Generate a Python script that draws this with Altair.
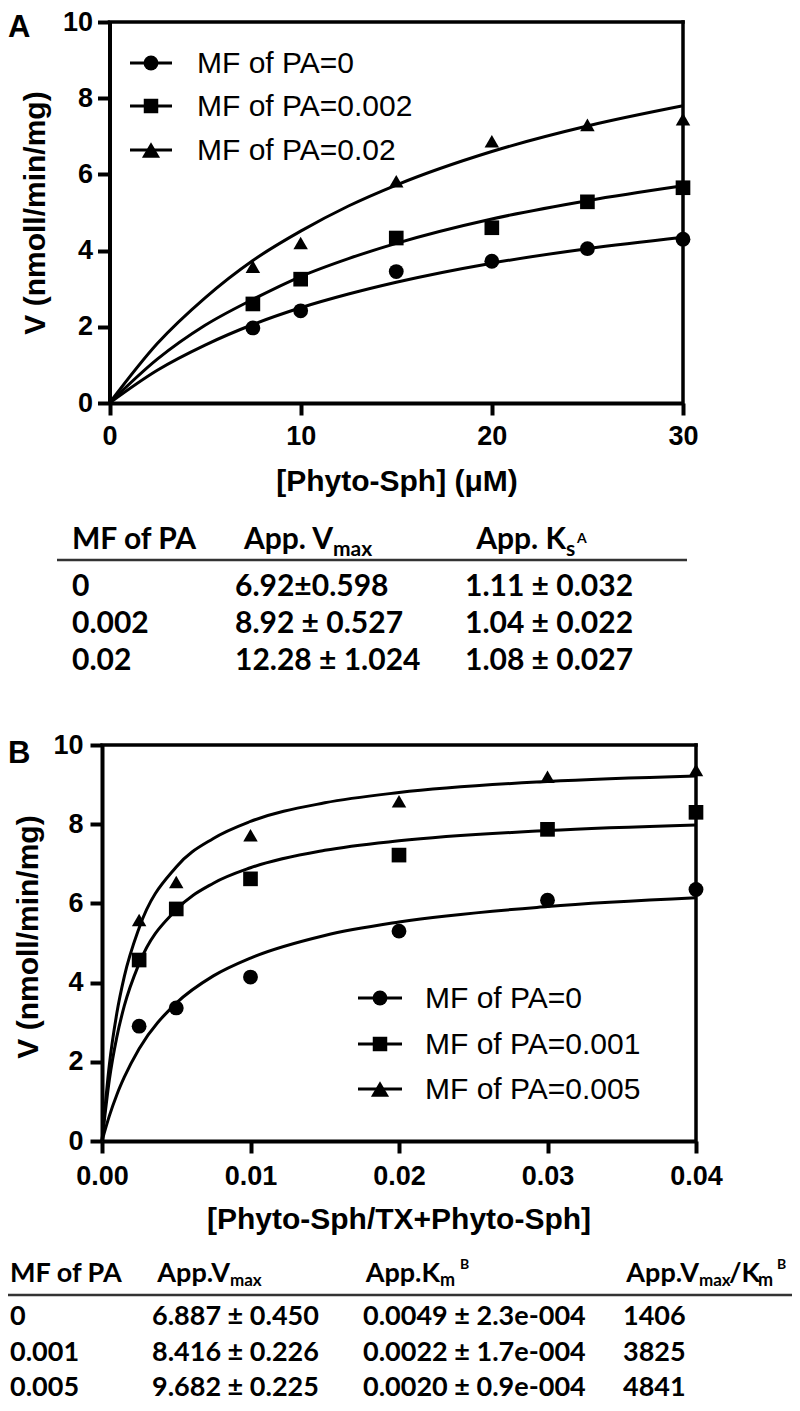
import altair as alt
import pandas as pd

W, H = 784, 1392

# ---------------- Panel A data ----------------
A_series = ["MF of PA=0", "MF of PA=0.002", "MF of PA=0.02"]
A_x = [7.5, 10, 15, 20, 25, 30]
A_v0 = [1.97, 2.42, 3.45, 3.72, 4.05, 4.30]
A_v1 = [2.60, 3.25, 4.33, 4.60, 5.28, 5.65]
A_v2 = [3.58, 4.20, 5.82, 6.87, 7.30, 7.45]
A_fit_x = [0, 2.5, 5, 7.5, 10, 12.5, 15, 20, 25, 30]
A_fit0 = [0, 0.86, 1.52, 2.06, 2.50, 2.86, 3.17, 3.67, 4.05, 4.35]
A_fit1 = [0, 1.15, 2.04, 2.72, 3.32, 3.79, 4.19, 4.83, 5.31, 5.70]
A_fit2 = [0, 1.56, 2.76, 3.74, 4.51, 5.17, 5.72, 6.60, 7.27, 7.80]
A_xticks = [0, 10, 20, 30]
A_yticks = [0, 2, 4, 6, 8, 10]

# ---------------- Panel B data ----------------
B_series = ["MF of PA=0", "MF of PA=0.001", "MF of PA=0.005"]
B_x = [0.0025, 0.005, 0.01, 0.02, 0.03, 0.04]
B_v0 = [2.90, 3.36, 4.14, 5.30, 6.08, 6.35]
B_v1 = [4.57, 5.86, 6.62, 7.22, 7.87, 8.30]
B_v2 = [5.58, 6.54, 7.72, 8.58, 9.20, 9.37]
B_fit_x = [0, 0.0005, 0.001, 0.0015, 0.0025, 0.005, 0.0075, 0.01, 0.015, 0.02, 0.03, 0.04]
B_fit0 = [0, 0.64, 1.17, 1.61, 2.33, 3.48, 4.17, 4.62, 5.19, 5.53, 5.92, 6.14]
B_fit1 = [0, 1.56, 2.63, 3.41, 4.48, 5.84, 6.51, 6.90, 7.34, 7.58, 7.84, 7.98]
B_fit2 = [0, 1.94, 3.23, 4.15, 5.38, 6.92, 7.64, 8.07, 8.54, 8.80, 9.08, 9.22]
B_xticks = [0, 0.01, 0.02, 0.03, 0.04]
B_yticks = [0, 2, 4, 6, 8, 10]

# ---------------- Tables ----------------
TA_rows = [
    ["0", "6.92±0.598", "1.11 ± 0.032"],
    ["0.002", "8.92 ± 0.527", "1.04 ± 0.022"],
    ["0.02", "12.28 ± 1.024", "1.08 ± 0.027"],
]
TB_rows = [
    ["0", "6.887 ± 0.450", "0.0049 ± 2.3e-004", "1406"],
    ["0.001", "8.416 ± 0.226", "0.0022 ± 1.7e-004", "3825"],
    ["0.005", "9.682 ± 0.225", "0.0020 ± 0.9e-004", "4841"],
]

SHAPES = ["circle", "square", "triangle-up"]
SIZES = [220, 210, 330]
AX_FONT = "Liberation Sans"
TB_FONT = "Lato"


def long_df(xs, ys_list, names):
    rows = []
    for name, ys in zip(names, ys_list):
        for xv, yv in zip(xs, ys):
            rows.append({"x": xv, "v": yv, "s": name})
    return pd.DataFrame(rows)


def axis(orient, offset, values, fmt, pad):
    return alt.Axis(orient=orient, offset=offset, values=values, format=fmt, title=None,
                    grid=False, domainColor="black", domainWidth=4, tickColor="black",
                    tickWidth=4, tickSize=12, labelFont=AX_FONT, labelFontWeight="bold",
                    labelFontSize=27, labelColor="black", labelPadding=pad,
                    labelFlush=False, labelOverlap=False)


def text_layer(s, x, y, size, weight="bold", font=TB_FONT, align="left", baseline="alphabetic", angle=0):
    return alt.Chart(pd.DataFrame({"t": [s]})).mark_text(
        font=font, fontSize=size, fontWeight=weight, align=align, baseline=baseline,
        color="black", angle=angle
    ).encode(text="t:N", x=alt.value(x), y=alt.value(y))


def panel(xs, pts, fx, fits, names, xdom, xrange, yrange, xticks, yticks, xfmt,
          xoff, yoff, xpad, ypad, leg_line, leg_mark, leg_text, leg_rows):
    xs_ = alt.Scale(domain=xdom, range=xrange, nice=False, zero=False)
    ys_ = alt.Scale(domain=[0, 10], range=yrange, nice=False, zero=False)
    shp = alt.Scale(domain=names, range=SHAPES)
    siz = alt.Scale(domain=names, range=SIZES)
    curves = alt.Chart(long_df(fx, fits, names)).mark_line(
        color="black", strokeWidth=3, interpolate="monotone"
    ).encode(
        x=alt.X("x:Q", scale=xs_, axis=axis("bottom", xoff, xticks, xfmt, xpad), title=None),
        y=alt.Y("v:Q", scale=ys_, axis=axis("left", yoff, yticks, "d", ypad), title=None),
        detail="s:N",
    )
    points = alt.Chart(long_df(xs, pts, names)).mark_point(
        filled=True, color="black", opacity=1
    ).encode(
        x=alt.X("x:Q", title=None), y=alt.Y("v:Q", title=None),
        shape=alt.Shape("s:N", scale=shp, legend=None),
        size=alt.Size("s:N", scale=siz, legend=None),
    )
    top = alt.Chart().mark_rule(color="black", strokeWidth=3.5, strokeCap="square").encode(
        x=alt.X(datum=xdom[0], type="quantitative", title=None), x2=alt.X2(datum=xdom[1]),
        y=alt.Y(datum=10, type="quantitative", title=None))
    right = alt.Chart().mark_rule(color="black", strokeWidth=3.5, strokeCap="square").encode(
        x=alt.X(datum=xdom[1], type="quantitative", title=None),
        y=alt.Y(datum=0, type="quantitative", title=None), y2=alt.Y2(datum=10))
    layers = [curves, points, top, right]
    for i, name in enumerate(names):
        yy = leg_rows[i]
        layers.append(alt.Chart().mark_rule(color="black", strokeWidth=3).encode(
            x=alt.value(leg_line[0]), x2=alt.value(leg_line[1]), y=alt.value(yy)))
        layers.append(alt.Chart().mark_point(filled=True, size=SIZES[i], color="black", opacity=1,
                                             shape=SHAPES[i]).encode(
            x=alt.value(leg_mark), y=alt.value(yy)))
        layers.append(text_layer(name, leg_text, yy + 10, 30, weight="normal", font=AX_FONT))
    return alt.layer(*layers)


panelA = panel(A_x, [A_v0, A_v1, A_v2], A_fit_x, [A_fit0, A_fit1, A_fit2], A_series,
               [0, 30], [101.5, 675], [392, 11], A_xticks, A_yticks, "d",
               -(H - 392), -101.5, 8, 5,
               (122, 164), 143, 189, [52, 95, 139])
panelB = panel(B_x, [B_v0, B_v1, B_v2], B_fit_x, [B_fit0, B_fit1, B_fit2], B_series,
               [0, 0.04], [94, 688], [1130, 734], B_xticks, B_yticks, ".2f",
               -(H - 1130), -94, 10, 7,
               (350, 394), 372, 417, [987, 1033, 1078])

texts = []
# panel letters and axis titles
texts.append(text_layer("A", 0, 26, 31, font=AX_FONT))
texts.append(text_layer("B", 0, 752, 31, font=AX_FONT))
texts.append(text_layer("V (nmoll/min/mg)", 28, 202, 30, font=AX_FONT, align="center",
                        baseline="middle", angle=270))
texts.append(text_layer("V (nmoll/min/mg)", 21, 926, 30, font=AX_FONT, align="center",
                        baseline="middle", angle=270))
texts.append(text_layer("[Phyto-Sph] (μM)", 389, 471, 30, font=AX_FONT, align="center",
                        baseline="middle"))
texts.append(text_layer("[Phyto-Sph/TX+Phyto-Sph]", 391, 1209, 30, font=AX_FONT,
                        align="center", baseline="middle"))

# ---- table A ----
tA_cols = [64, 227, 457]
tA_head = 538
texts.append(text_layer("MF of PA", tA_cols[0], tA_head, 30))
texts.append(text_layer("App. V", 325, tA_head, 30, align="right"))
texts.append(text_layer("max", 325, tA_head + 7, 21))
texts.append(text_layer("App. K", 558, tA_head, 30, align="right"))
texts.append(text_layer("s", 558, tA_head + 7, 21))
texts.append(text_layer("A", 569, tA_head - 6, 14))
for r, yb in zip(TA_rows, [585, 622, 659]):
    for c, xv in zip(r, tA_cols):
        texts.append(text_layer(c, xv, yb, 30))
lineA = alt.Chart().mark_rule(color="#333333", strokeWidth=2.5).encode(
    x=alt.value(49), x2=alt.value(679), y=alt.value(549))

# ---- table B ----
tB_cols = [2, 144, 355, 615]
tB_head = 1271
texts.append(text_layer("MF of PA", tB_cols[0], tB_head, 27))
texts.append(text_layer("App.V", 222, tB_head, 27, align="right"))
texts.append(text_layer("max", 222, tB_head + 4, 17))
texts.append(text_layer("App.K", 432, tB_head, 27, align="right"))
texts.append(text_layer("m", 432, tB_head + 4, 18))
texts.append(text_layer("B", 452, tB_head - 13, 14))
texts.append(text_layer("App.V", 691, tB_head, 27, align="right"))
texts.append(text_layer("max", 691, tB_head + 4, 17))
texts.append(text_layer("/K", 721, tB_head, 27))
texts.append(text_layer("m", 750, tB_head + 4, 18))
texts.append(text_layer("B", 769, tB_head - 13, 14))
for r, yb in zip(TB_rows, [1314, 1350, 1385]):
    for c, xv in zip(r, tB_cols):
        texts.append(text_layer(c, xv, yb, 27))
lineB = alt.Chart().mark_rule(color="#333333", strokeWidth=2.5).encode(
    x=alt.value(0), x2=alt.value(784), y=alt.value(1284))

chart = alt.layer(panelA, panelB, lineA, lineB, *texts).resolve_scale(
    x="independent", y="independent", shape="independent", size="independent"
).properties(
    width=W, height=H, autosize=alt.AutoSizeParams(type="none"),
    padding={"top": 3, "left": 0, "right": 0, "bottom": 0},
    background="white"
).configure_view(stroke=None)

chart.save("out.html", embed_options={"renderer": "svg", "actions": False})
